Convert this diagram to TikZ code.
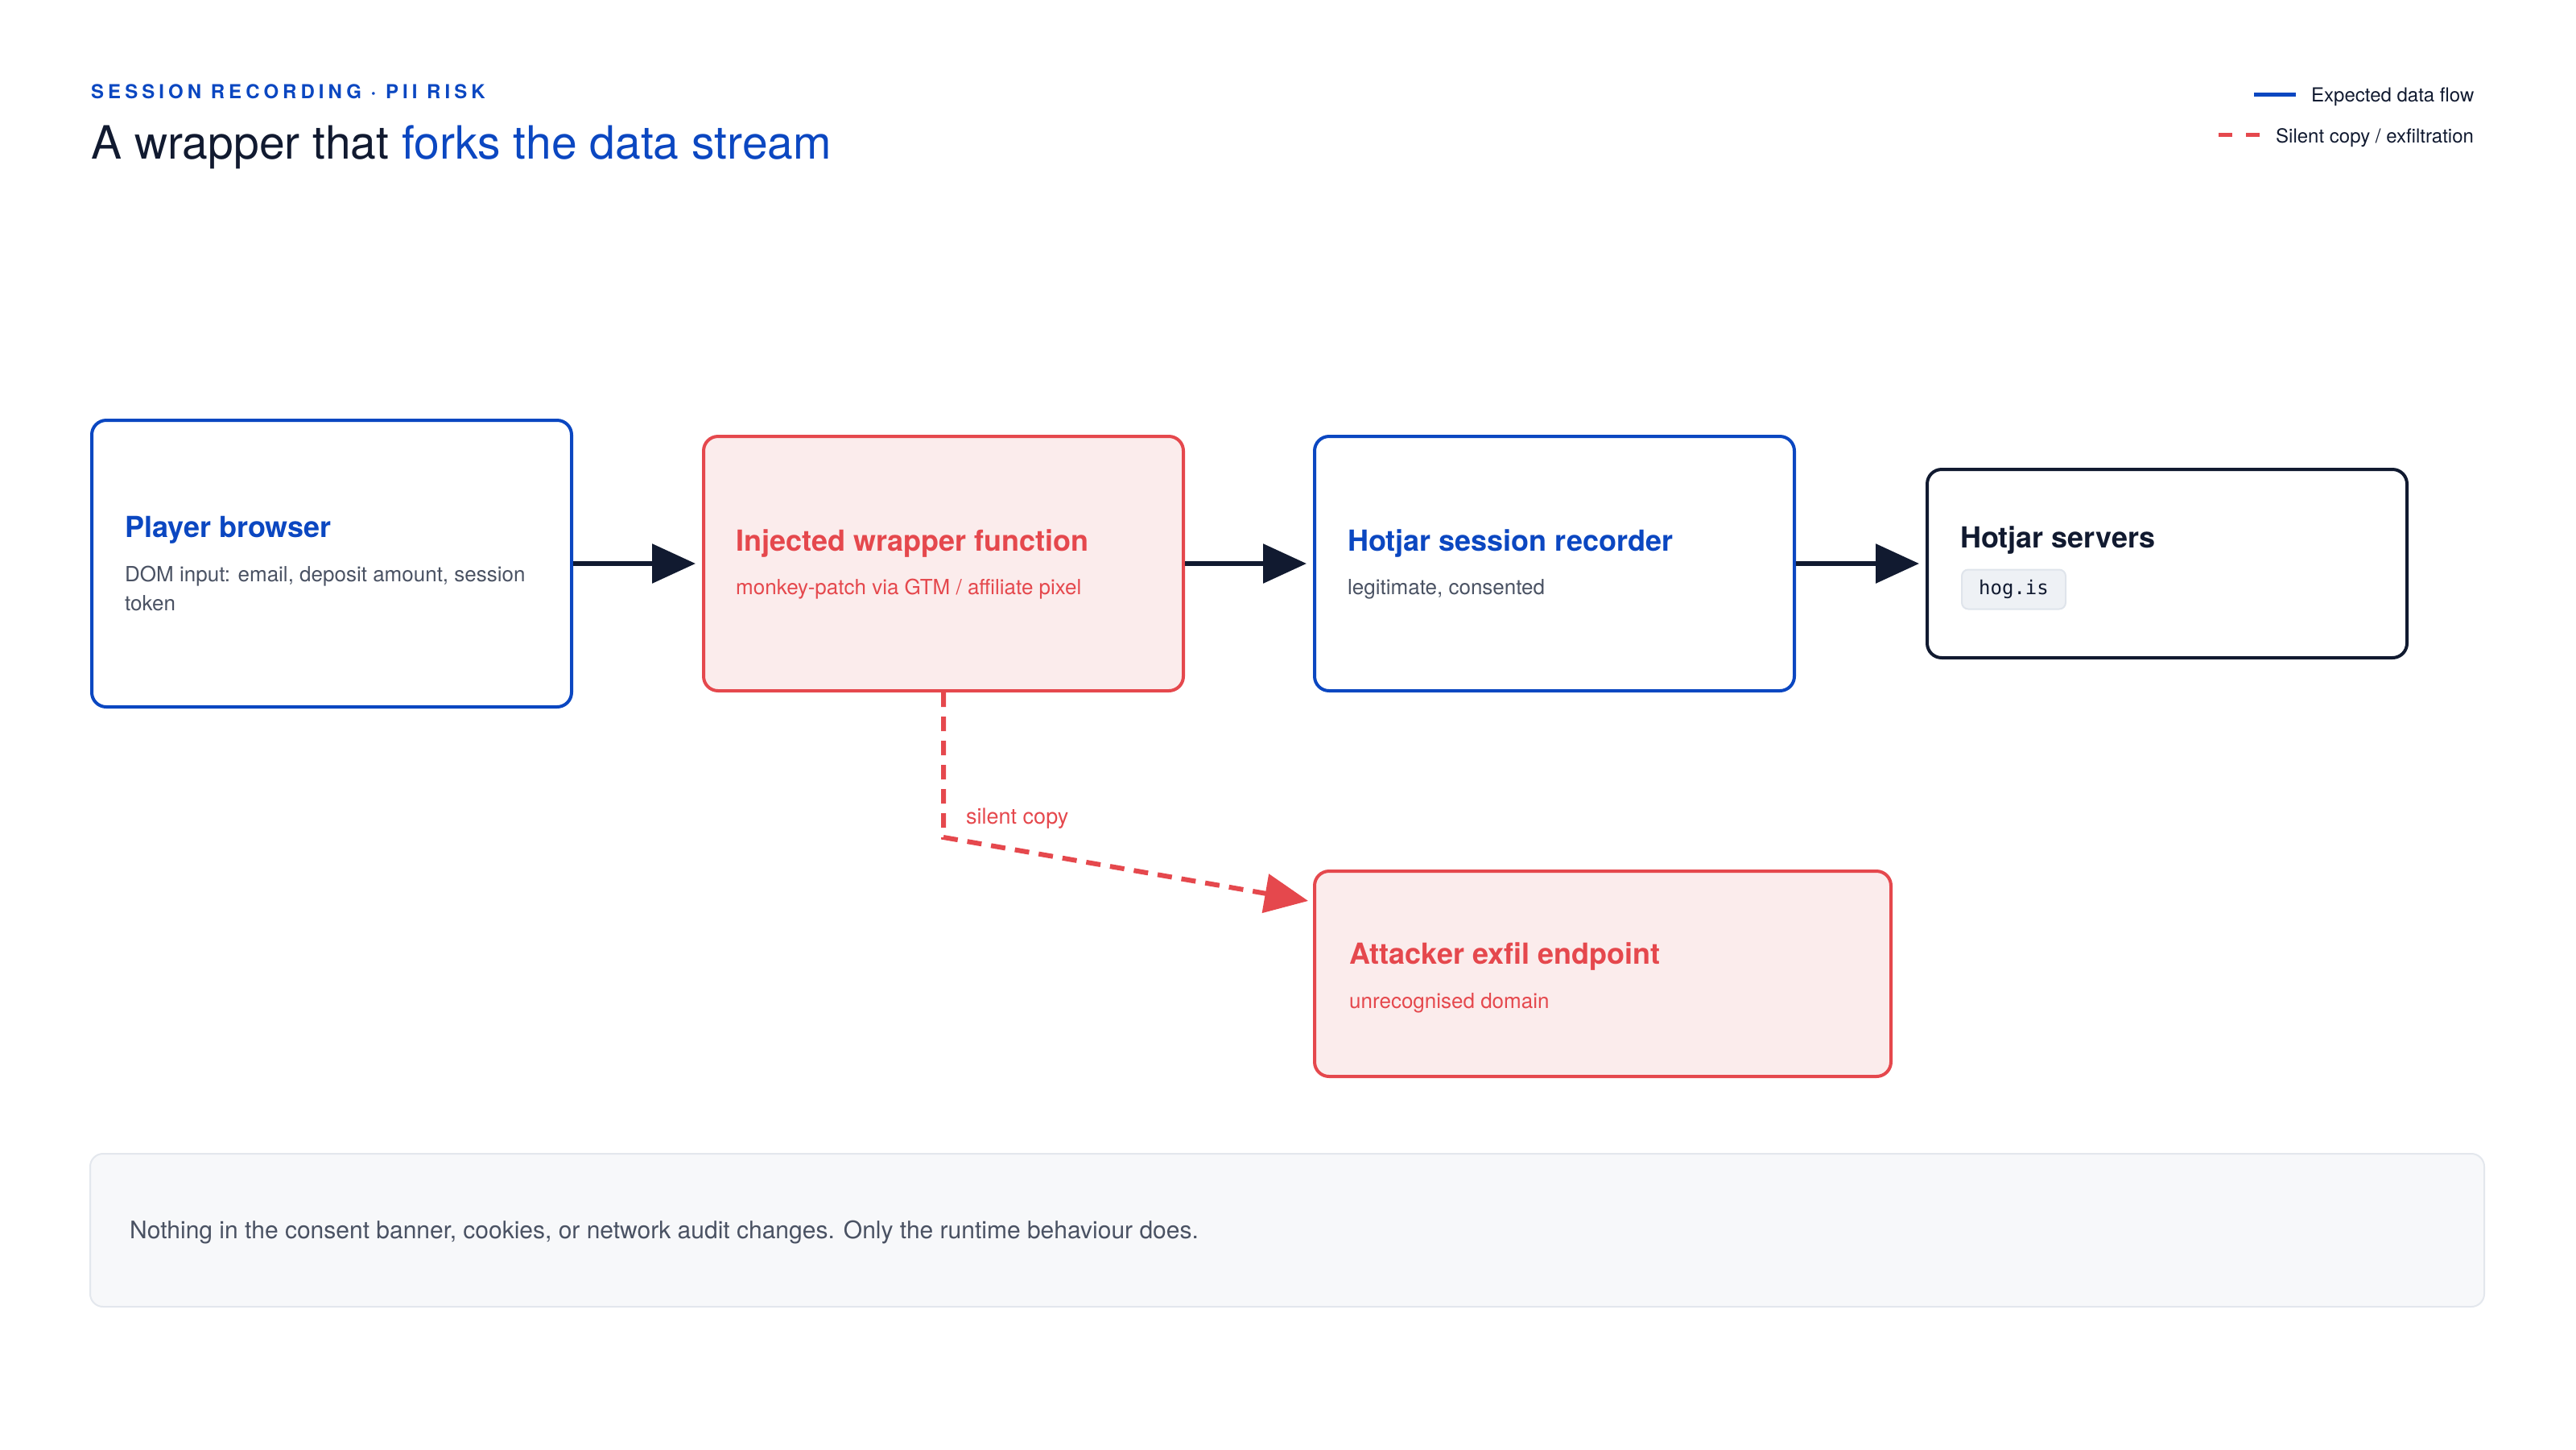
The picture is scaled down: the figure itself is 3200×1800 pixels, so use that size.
\documentclass[tikz,border=0pt]{standalone}
\usepackage{fontspec}
\setmainfont{TeX Gyre Heros}
\setmonofont{DejaVu Sans Mono}
\usetikzlibrary{arrows.meta}

\definecolor{ink}{HTML}{111A30}
\definecolor{brand}{HTML}{0B47C1}
\definecolor{alert}{HTML}{E5484D}
\definecolor{alertfill}{HTML}{FBECEC}
\definecolor{slate}{HTML}{4A5263}
\definecolor{notefill}{HTML}{F7F8FA}
\definecolor{noteline}{HTML}{E3E7ED}
\definecolor{chipfill}{HTML}{EEF1F5}
\definecolor{chipline}{HTML}{DFE4EB}

\tikzset{
  card/.style={draw, rounded corners=18pt, line width=4pt, inner sep=0pt, minimum width=596pt},
  ttl/.style={anchor=base west, inner sep=0pt, font=\fontsize{36}{43}\selectfont\bfseries},
  sub/.style={anchor=base west, inner sep=0pt, align=left, text=slate, font=\fontsize{26}{36}\selectfont},
  flow/.style={ink, line width=6pt, -{Triangle[length=54pt,width=48pt]}, shorten >=8pt},
  leak/.style={alert, line width=6pt, dash pattern=on 18pt off 12pt, -{Triangle[length=54pt,width=48pt]}, shorten >=6pt},
}

\begin{document}
\begin{tikzpicture}[x=1pt, y=-1pt]
  \useasboundingbox (0,0) rectangle (3200,1800);

  % heading
  \node[anchor=base west, inner sep=0pt, text=brand, font=\fontsize{24}{28}\selectfont\bfseries\addfontfeature{LetterSpace=21}]
    (eyebrow) at (113,122) {SESSION RECORDING · PII RISK};
  \node[anchor=base west, inner sep=0pt, text=ink, font=\fontsize{57}{66}\selectfont]
    (headline) at (113,197) {A wrapper that \textcolor{brand}{forks the data stream}};

  % legend
  \coordinate (lg1a) at (2800,117); \coordinate (lg1b) at (2852,117);
  \coordinate (lg2a) at (2756,167); \coordinate (lg2b) at (2808,167);
  \draw[brand, line width=5pt] (lg1a) -- (lg1b);
  \draw[alert, line width=5pt, dash pattern=on 17pt off 17pt] (lg2a) -- (lg2b);
  \node[anchor=base west, inner sep=0pt, text=ink, font=\fontsize{24}{28}\selectfont] (lg1) at (2871,126) {Expected data flow};
  \node[anchor=base west, inner sep=0pt, text=ink, font=\fontsize{24}{28}\selectfont] (lg2) at (2827,177) {Silent copy / exfiltration};

  % cards
  \node[card, brand, minimum height=356pt] (player) at (412,700) {};
  \node[card, alert, fill=alertfill, minimum height=316pt] (wrapper) at (1172,700) {};
  \node[card, brand, minimum height=316pt] (recorder) at (1931,700) {};
  \node[card, ink, minimum height=234pt] (servers) at (2692,700) {};
  \node[card, alert, fill=alertfill, minimum width=716pt, minimum height=255pt] (exfil) at (1991,1209.5) {};

  \node[ttl, text=brand] (player-t) at ([xshift=43pt,yshift=33pt]player.west) {Player browser};
  \node[sub] (player-s) at ([xshift=43pt,yshift=-58pt]player.west) {DOM input: email, deposit amount, session\\token};

  \node[ttl, text=alert] (wrapper-t) at ([xshift=42pt,yshift=16pt]wrapper.west) {Injected wrapper function};
  \node[sub, text=alert] (wrapper-s) at ([xshift=42pt,yshift=-38pt]wrapper.west) {monkey-patch via GTM / affiliate pixel};

  \node[ttl, text=brand] (recorder-t) at ([xshift=43pt,yshift=16pt]recorder.west) {Hotjar session recorder};
  \node[sub] (recorder-s) at ([xshift=43pt,yshift=-38pt]recorder.west) {legitimate, consented};

  \node[ttl, text=ink] (servers-t) at ([xshift=43pt,yshift=20pt]servers.west) {Hotjar servers};
  \node[anchor=west, draw=chipline, fill=chipfill, line width=2pt, rounded corners=8pt,
        minimum width=129pt, minimum height=49pt, inner sep=0pt, text=ink,
        font=\fontsize{24}{28}\selectfont\ttfamily] (servers-c) at ([xshift=44pt,yshift=-32pt]servers.west) {hog.is};

  \node[ttl, text=alert] (exfil-t) at ([xshift=45pt,yshift=12.5pt]exfil.west) {Attacker exfil endpoint};
  \node[sub, text=alert] (exfil-s) at ([xshift=45pt,yshift=-42.5pt]exfil.west) {unrecognised domain};

  % connectors
  \draw[flow] (player.east) -- (wrapper.west);
  \draw[flow] (wrapper.east) -- (recorder.west);
  \draw[flow] (recorder.east) -- (servers.west);

  \coordinate (bend) at (1172,1040);
  \draw[leak] (wrapper.south) -- (bend) -- ([yshift=-40pt]exfil.north west);
  \node[anchor=base west, inner sep=0pt, text=alert, font=\fontsize{27}{32}\selectfont] (leak-l) at (1200,1023) {silent copy};

  % footnote
  \node[draw=noteline, fill=notefill, line width=2pt, rounded corners=16pt,
        minimum width=2974pt, minimum height=190pt] (note) at (1599,1528) {};
  \node[anchor=base west, inner sep=0pt, text=slate, font=\fontsize{30}{35}\selectfont] (note-t) at ([xshift=50pt,yshift=-10pt]note.west)
    {Nothing in the consent banner, cookies, or network audit changes. Only the runtime behaviour does.};
\end{tikzpicture}
\end{document}
